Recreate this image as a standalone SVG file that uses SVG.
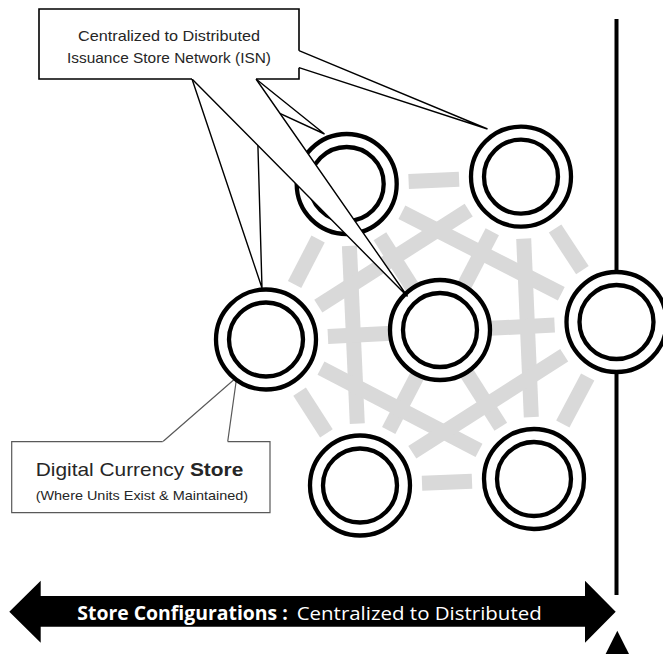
<svg xmlns="http://www.w3.org/2000/svg" width="663" height="654" viewBox="0 0 663 654">
<style>
.mesh line{stroke:#d9d9d9;stroke-width:15;stroke-linecap:butt}
.ring{fill:#fff;stroke:#000;stroke-width:4.3}
.inner{fill:none;stroke:#000;stroke-width:4.3}
.wedge{fill:#fff;stroke:#000;stroke-width:1.4;stroke-linejoin:miter}
.t{font-family:"Liberation Sans",Arial,sans-serif;fill:#262626}
.w{font-family:"Open Sans","Liberation Sans",sans-serif;fill:#fff;font-size:19px}
</style>
<rect width="663" height="654" fill="#fff"/>
<g id="axis">
<line x1="616.5" y1="19" x2="616.5" y2="595" stroke="#000" stroke-width="4"/>
<polygon points="617.3,630.7 602.6,660 632,660" fill="#000"/>
</g>
<g id="connectors" class="mesh">
<line x1="408.6" y1="181.4" x2="459.1" y2="179.3"/>
<line x1="318.1" y1="239.0" x2="294.6" y2="284.5"/>
<line x1="401.9" y1="212.2" x2="561.3" y2="293.8"/>
<line x1="349.4" y1="245.9" x2="357.3" y2="423.6"/>
<line x1="379.9" y1="236.3" x2="500.8" y2="426.7"/>
<line x1="468.7" y1="210.1" x2="318.3" y2="306.1"/>
<line x1="555.1" y1="228.5" x2="582.4" y2="270.2"/>
<line x1="492.3" y1="231.7" x2="388.7" y2="430.5"/>
<line x1="523.7" y1="238.6" x2="531.3" y2="417.1"/>
<line x1="327.9" y1="336.4" x2="554.6" y2="325.1"/>
<line x1="299.6" y1="391.6" x2="326.4" y2="433.4"/>
<line x1="321.0" y1="368.1" x2="479.0" y2="450.4"/>
<line x1="564.2" y1="355.3" x2="412.3" y2="452.2"/>
<line x1="587.7" y1="376.9" x2="562.8" y2="424.1"/>
<line x1="422.0" y1="483.2" x2="472.0" y2="481.3"/>
</g>
<g id="store-callout">
<path d="M162.7,441.7 L236.7,377.3 L227.7,441.7" fill="#fff" stroke="#595959" stroke-width="1.2"/>
<rect x="11.7" y="441.7" width="258.3" height="71" fill="#fff"/>
<path d="M162.7,441.7 L11.7,441.7 L11.7,512.7 L270,512.7 L270,441.7 L227.7,441.7" fill="none" stroke="#595959" stroke-width="1.2"/>
<text class="t" x="35.7" y="476" font-size="19" textLength="207.6" lengthAdjust="spacingAndGlyphs">Digital Currency <tspan font-weight="bold">Store</tspan></text>
<text class="t" x="35.7" y="500" font-size="13" textLength="212.3" lengthAdjust="spacingAndGlyphs">(Where Units Exist &amp; Maintained)</text>
</g>
<g id="node-a"><circle class="ring" cx="346.7" cy="184" r="50"/><circle class="inner" cx="346.7" cy="184" r="37"/></g>
<g id="node-b"><circle class="ring" cx="521" cy="176.7" r="50"/><circle class="inner" cx="521" cy="176.7" r="37"/></g>
<g id="node-c"><circle class="ring" cx="266" cy="339.5" r="50"/><circle class="inner" cx="266" cy="339.5" r="37"/></g>
<g id="node-d"><circle class="ring" cx="440" cy="330" r="50"/><circle class="inner" cx="440" cy="330" r="37"/></g>
<g id="node-e"><circle class="ring" cx="616.5" cy="322" r="50"/><circle class="inner" cx="616.5" cy="322" r="37"/></g>
<g id="node-f"><circle class="ring" cx="360" cy="485.5" r="50"/><circle class="inner" cx="360" cy="485.5" r="37"/></g>
<g id="node-g"><circle class="ring" cx="534" cy="479" r="50"/><circle class="inner" cx="534" cy="479" r="37"/></g>
<g id="isn-callout">
<path class="wedge" d="M205,79 L324.5,134 L256,79"/>
<path class="wedge" d="M192,79 L262,288 L256,79"/>
<path class="wedge" d="M192,79 L407.5,296.5 L256,79"/>
<path class="wedge" d="M299,50.7 L487.5,129 L299,67.7"/>
<rect x="39" y="9" width="260" height="70" fill="#fff"/>
<path d="M192,79 L39,79 L39,9 L299,9 L299,50.7 M299,67.7 L299,79 L256,79" fill="none" stroke="#000" stroke-width="1.6"/>
<text class="t" x="78" y="40.7" font-size="15" textLength="182" lengthAdjust="spacingAndGlyphs">Centralized to Distributed</text>
<text class="t" x="67" y="63.3" font-size="15" textLength="204" lengthAdjust="spacingAndGlyphs">Issuance Store Network (ISN)</text>
</g>
<g id="config-arrow">
<polygon points="9.3,611.7 40.7,580.7 40.7,596 585,596 585,580.7 615.7,611.7 585,642.7 585,626.7 40.7,626.7 40.7,642.7" fill="#000"/>
<text class="w" x="77.3" y="620" font-weight="bold" textLength="210.5" lengthAdjust="spacingAndGlyphs">Store Configurations :</text>
<text class="w" x="296.7" y="620" textLength="245" lengthAdjust="spacingAndGlyphs">Centralized to Distributed</text>
</g>
</svg>
